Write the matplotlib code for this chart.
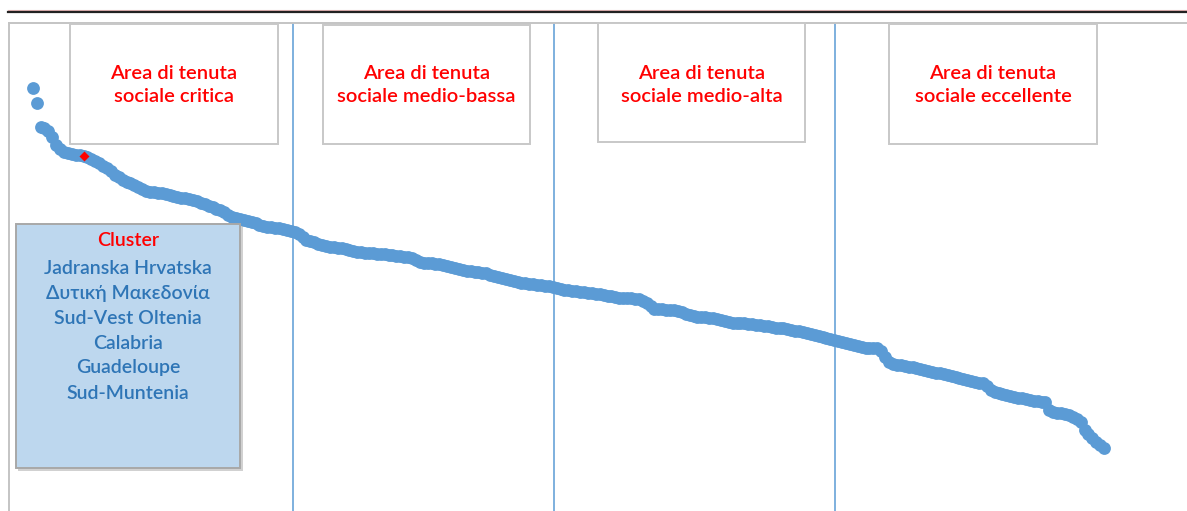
import matplotlib
matplotlib.use("Agg")
import matplotlib.pyplot as plt
from matplotlib.patches import Rectangle
from matplotlib.lines import Line2D
import numpy as np

plt.rcParams['font.family'] = ['Lato', 'Open Sans', 'DejaVu Sans']

# indice di tenuta sociale, regioni ordinate
valori = [
    86.7, 83.6, 78.7, 78.5, 77.9, 76.6, 75.0, 74.2, 73.6, 73.4,
    73.2, 73.0, 72.9, 72.8, 72.5, 72.1, 71.7, 71.3, 70.7, 70.3,
    69.7, 68.9, 68.4, 67.8, 67.4, 67.2, 66.8, 66.4, 66.0, 65.6,
    65.4, 65.3, 65.2, 65.1, 65.0, 64.7, 64.5, 64.3, 64.2, 64.1,
    63.9, 63.7, 63.5, 63.1, 62.9, 62.5, 62.3, 61.9, 61.7, 61.3,
    60.6, 60.2, 60.0, 59.8, 59.6, 59.4, 59.2, 59.0, 58.6, 58.4,
    58.2, 58.1, 58.0, 57.9, 57.8, 57.6, 57.4, 57.2, 56.8, 56.2,
    55.5, 55.3, 55.1, 54.7, 54.5, 54.3, 54.2, 54.1, 53.9, 53.8,
    53.7, 53.5, 53.3, 53.1, 53.0, 52.9, 52.9, 52.8, 52.7, 52.6,
    52.6, 52.5, 52.4, 52.3, 52.2, 52.1, 52.0, 51.8, 51.4, 51.0,
    50.9, 50.9, 50.8, 50.7, 50.6, 50.4, 50.2, 50.0, 49.8, 49.6,
    49.4, 49.2, 49.1, 49.0, 48.9, 48.8, 48.7, 48.4, 48.1, 47.9,
    47.7, 47.5, 47.3, 47.1, 46.9, 46.8, 46.7, 46.6, 46.5, 46.4,
    46.3, 46.2, 46.1, 45.9, 45.7, 45.5, 45.3, 45.2, 45.1, 45.0,
    44.9, 44.8, 44.7, 44.6, 44.5, 44.4, 44.2, 44.1, 44.0, 43.8,
    43.7, 43.7, 43.6, 43.6, 43.5, 43.4, 43.0, 42.6, 42.0, 41.4,
    41.4, 41.3, 41.2, 41.2, 41.1, 41.0, 40.8, 40.4, 40.2, 40.0,
    39.8, 39.7, 39.7, 39.6, 39.5, 39.3, 39.1, 38.9, 38.7, 38.6,
    38.6, 38.5, 38.5, 38.4, 38.3, 38.2, 38.1, 38.0, 37.9, 37.7,
    37.6, 37.5, 37.4, 37.2, 37.1, 36.9, 36.8, 36.6, 36.5, 36.3,
    36.1, 35.9, 35.7, 35.5, 35.3, 35.0, 34.9, 34.7, 34.4, 34.3,
    34.0, 33.8, 33.6, 33.5, 33.4, 33.4, 33.3, 32.8, 31.6, 30.5,
    30.1, 30.0, 29.9, 29.8, 29.6, 29.5, 29.3, 29.1, 28.9, 28.7,
    28.5, 28.3, 28.2, 28.1, 27.9, 27.7, 27.5, 27.3, 27.1, 26.9,
    26.7, 26.4, 26.3, 26.2, 25.6, 24.8, 24.4, 24.2, 24.0, 23.8,
    23.6, 23.4, 23.2, 23.1, 22.9, 22.7, 22.6, 22.5, 22.4, 22.3,
    20.7, 20.3, 20.1, 20.0, 19.9, 19.6, 19.3, 18.9, 18.2, 16.6,
    15.8, 15.0, 14.1, 13.5, 12.9,
]
rango = np.arange(1, len(valori) + 1)
evidenziato = 14  # rango del punto in rosso
soglie = [67.6, 134.3, 206.2]

aree = [
    "Area di tenuta\nsociale critica",
    "Area di tenuta\nsociale medio-bassa",
    "Area di tenuta\nsociale medio-alta",
    "Area di tenuta\nsociale eccellente",
]
cluster_titolo = "Cluster"
cluster_regioni = ["Jadranska Hrvatska", "Δυτική Μακεδονία", "Sud-Vest Oltenia",
                   "Calabria", "Guadeloupe", "Sud-Muntenia"]

W, H = 1187, 511
fig = plt.figure(figsize=(W / 100, H / 100), dpi=100)
fig.patch.set_facecolor("white")

def fx(px):
    return px / W

def fy(py):
    return 1 - py / H

ax = fig.add_axes([fx(9), 0, 1 - fx(9), 1 - 23 / H])
ax.scatter(rango, valori, s=85, color="#5B9BD5", linewidths=0, zorder=3)
ax.scatter([evidenziato], [valori[evidenziato - 1]], s=26, marker="D",
           color="red", linewidths=0, zorder=4)
for s in soglie:
    ax.axvline(s, color="#5B9BD5", lw=1.1, zorder=2)

ax.set_xlim(-5.06, 296.2)
ax.set_ylim(0, 100)
ax.set_xticks([])
ax.set_yticks([])
for side in ["right", "bottom"]:
    ax.spines[side].set_visible(False)
for side in ["top", "left"]:
    ax.spines[side].set_color("#C4C4C4")
    ax.spines[side].set_linewidth(1.4)

# linee in alto
fig.add_artist(Line2D([fx(8), 1], [fy(10.5), fy(10.5)], color="#E8B8B8", lw=0.8))
fig.add_artist(Line2D([fx(8), 1], [fy(12.5), fy(12.5)], color="#222222", lw=1.6))

def box(x0, y0, x1, y1, fc, ec):
    r = Rectangle((fx(x0), fy(y1)), (x1 - x0) / W, (y1 - y0) / H,
                  transform=fig.transFigure, facecolor=fc, edgecolor=ec,
                  lw=1.4, zorder=5)
    fig.add_artist(r)

pos_aree = [(70, 24, 278, 144), (323, 25, 530, 144),
            (598, 23, 805, 142), (889, 24, 1097, 144)]
for (x0, y0, x1, y1), testo in zip(pos_aree, aree):
    box(x0, y0, x1, y1, "white", "#C8C8C8")
    fig.text(fx((x0 + x1) / 2), fy(85), testo, ha="center", va="center",
             color="red", fontsize=14.5, fontweight="semibold",
             linespacing=1.4, zorder=6)

# riquadro cluster con ombra
fig.add_artist(Rectangle((fx(18), fy(471)), 225 / W, 245 / H,
                         transform=fig.transFigure, facecolor="#9A9A9A",
                         edgecolor="none", alpha=0.45, zorder=4))
box(16, 224, 240, 468, "#BDD7EE", "#A8A8A8")
fig.text(fx(128), fy(241), cluster_titolo, ha="center", va="center",
         color="red", fontsize=14, fontweight="semibold", zorder=6)
for k, reg in enumerate(cluster_regioni):
    fig.text(fx(128), fy(268 + 25 * k), reg, ha="center", va="center",
             color="#2E75B6", fontsize=14, fontweight="semibold", zorder=6)

fig.savefig("out.png", dpi=100)
